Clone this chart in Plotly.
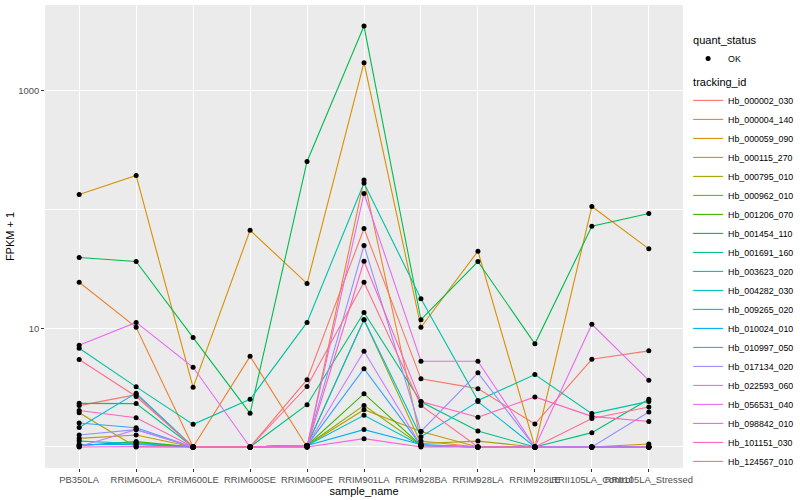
import numpy as np
import plotly.graph_objects as go

# ---- data (FPKM) ----
sample_names = ["PB350LA", "RRIM600LA", "RRIM600LE", "RRIM600SE", "RRIM600PE",
                "RRIM901LA", "RRIM928BA", "RRIM928LA", "RRIM928LE",
                "RRII105LA_Control", "RRII105LA_Stressed"]

tracking_ids = ["Hb_000002_030", "Hb_000004_140", "Hb_000059_090", "Hb_000115_270",
                "Hb_000795_010", "Hb_000962_010", "Hb_001206_070", "Hb_001454_110",
                "Hb_001691_160", "Hb_003623_020", "Hb_004282_030", "Hb_009265_020",
                "Hb_010024_010", "Hb_010997_050", "Hb_017134_020", "Hb_022593_060",
                "Hb_056531_040", "Hb_098842_010", "Hb_101151_030", "Hb_124567_010"]

hb_000002_030 = [1.23, 1.76, 0, 0, 2.69, 68.3, 2.75, 2.10, 0.56, 4.48, 5.45]
hb_000004_140 = [23.4, 9.2, 0, 4.8, 0, 176.7, 0.12, 0, 0, 0, 0]
hb_000059_090 = [133.1, 192.9, 2.18, 66.0, 22.8, 1728, 9.2, 43.6, 0, 105.2, 45.7]
hb_000115_270 = [0.18, 0.26, 0, 0, 0.03, 1.06, 0.35, 0, 0, 0, 0.06]
hb_000795_010 = [0.94, 0, 0, 0, 0.03, 10.8, 0.07, 0.12, 0, 0, 0]
hb_000962_010 = [0.03, 0.09, 0, 0, 0.03, 1.24, 0.03, 0, 0, 0, 0]
hb_001206_070 = [0.03, 0.11, 0, 0, 0.03, 1.81, 0.03, 0, 0, 0, 0]
hb_001454_110 = [38.5, 35.5, 7.35, 0.92, 253.4, 3518, 10.8, 35.5, 6.39, 71.4, 91.7]
hb_001691_160 = [1.33, 1.32, 0, 0, 1.27, 12.6, 1.40, 0.36, 0, 0.32, 1.52]
hb_003623_020 = [5.78, 2.21, 0.55, 1.52, 10.2, 166.6, 16.7, 1.46, 3.07, 0.91, 1.42]
hb_004282_030 = [0.12, 0.07, 0, 0, 0.03, 0.85, 0.03, 0, 0, 0, 0]
hb_009265_020 = [0.46, 1.84, 0, 0, 0.03, 10.8, 0.22, 1.41, 0, 0, 0]
hb_010024_010 = [0.05, 0.05, 0, 0, 0.03, 0.40, 0.05, 0, 0, 0, 0]
hb_010997_050 = [0.59, 0.45, 0, 0, 0.03, 3.57, 0.03, 0, 0, 0, 0]
hb_017134_020 = [0.26, 0.40, 0, 0, 0.03, 48.8, 0.35, 3.21, 0, 0, 0.97]
hb_022593_060 = [0.01, 0.40, 0, 0, 0.03, 5.4, 0.03, 0, 0, 0, 0]
hb_056531_040 = [6.19, 10.2, 3.69, 0, 0, 135.7, 4.27, 4.27, 0, 9.81, 2.64]
hb_098842_010 = [0, 0.01, 0, 0, 0, 0.175, 0, 0, 0, 0, 0]
hb_101151_030 = [1.03, 0.76, 0, 0, 0, 35.7, 1.41, 0.78, 1.64, 0.81, 0.64]
hb_124567_010 = [4.45, 1.66, 0, 0, 2.23, 23.4, 1.24, 0, 0, 0.74, 1.17]

series_values = [hb_000002_030, hb_000004_140, hb_000059_090, hb_000115_270,
                 hb_000795_010, hb_000962_010, hb_001206_070, hb_001454_110,
                 hb_001691_160, hb_003623_020, hb_004282_030, hb_009265_020,
                 hb_010024_010, hb_010997_050, hb_017134_020, hb_022593_060,
                 hb_056531_040, hb_098842_010, hb_101151_030, hb_124567_010]

quant_status = "OK"

# ggplot2 default hue palette for 20 levels
colors = ["#F8766D", "#EA8331", "#D89000", "#C09B00", "#A3A500", "#7CAE00",
          "#39B600", "#00BB4E", "#00BF7D", "#00C1A3", "#00BFC4", "#00BAE0",
          "#00B0F6", "#35A2FF", "#9590FF", "#C77CFF", "#E76BF3", "#FA62DB",
          "#FF62BC", "#FF6C91"]

FONT = "Liberation Sans, Arial, Helvetica, sans-serif"

fig = go.Figure()

for i, (tid, vals) in enumerate(zip(tracking_ids, series_values)):
    fig.add_trace(go.Scatter(
        x=sample_names, y=[v + 1 for v in vals], mode="lines", name=tid,
        line=dict(color=colors[i], width=1.1),
        legendgroup="tracking_id", legendrank=10 + i,
        legendgrouptitle=dict(text="tracking_id", font=dict(size=11, color="black")) if i == 0 else None,
        showlegend=True,
    ))

all_x = [s for vals in series_values for s in sample_names]
all_y = [v + 1 for vals in series_values for v in vals]
fig.add_trace(go.Scatter(
    x=all_x, y=all_y, mode="markers", name=quant_status,
    marker=dict(color="black", size=5, symbol="circle"),
    legendgroup="quant_status", legendrank=1,
    legendgrouptitle=dict(text="quant_status", font=dict(size=11, color="black")),
))

ymin = np.log10(min(all_y))
ymax = np.log10(max(all_y))
pad = (ymax - ymin) * 0.05

fig.update_layout(
    width=800, height=500,
    margin=dict(l=45, r=117, t=5, b=32, autoexpand=False),
    paper_bgcolor="white", plot_bgcolor="#EBEBEB",
    font=dict(family=FONT, size=9, color="#4D4D4D"),
    showlegend=True,
    legend=dict(
        x=1.008, xanchor="left", y=0.957, yanchor="top",
        font=dict(size=8.8, color="black", family=FONT),
        bgcolor="rgba(255,255,255,0)", itemwidth=30,
        tracegroupgap=4, traceorder="grouped", maxheight=495,
    ),
)

fig.update_xaxes(
    type="category", range=[-0.6, len(sample_names) - 0.4],
    showgrid=True, gridcolor="white", gridwidth=1.1,
    ticks="outside", ticklen=3, tickcolor="#333333", tickwidth=1,
    tickangle=0, tickfont=dict(size=9.4, color="#4D4D4D"),
    showline=False, zeroline=False,
    title=dict(text="sample_name", font=dict(size=11, color="black"), standoff=0),
    automargin=False,
)

fig.update_yaxes(
    type="log", range=[ymin - pad, ymax + pad],
    tickvals=[10, 1000], ticktext=["10", "1000"],
    showgrid=True, gridcolor="white", gridwidth=1.1,
    minor=dict(tickvals=[1, 100, 10000], showgrid=True, gridcolor="white",
               gridwidth=0.55, ticks=""),
    ticks="outside", ticklen=3, tickcolor="#333333", tickwidth=1,
    tickfont=dict(size=9.4, color="#4D4D4D"),
    showline=False, zeroline=False,
    title=dict(text="FPKM + 1", font=dict(size=11, color="black"), standoff=1),
    automargin=False,
)

fig.write_html("out.html", config={"displayModeBar": False},
               post_script="document.body.style.margin='0';")
